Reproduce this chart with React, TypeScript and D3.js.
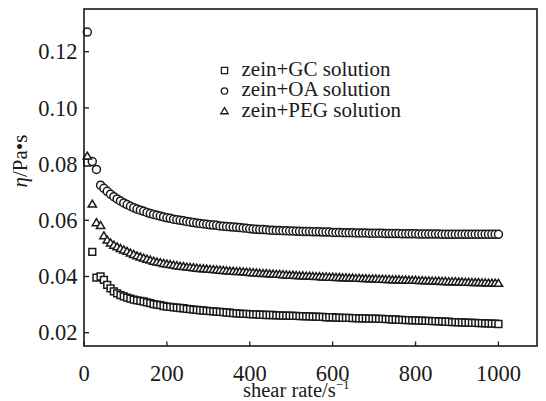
import React from "react";
import * as d3 from "d3";

const shearRate = [
  8, 20, 30, 40, 48, 56, 64, 72, 80, 88,
  96, 104, 112, 120, 128, 136, 144, 152, 160, 168,
  176, 184, 192, 200, 208, 216, 224, 232, 240, 248,
  256, 264, 272, 280, 288, 296, 304, 312, 320, 328,
  336, 344, 352, 360, 368, 376, 384, 392, 400, 408,
  416, 424, 432, 440, 448, 456, 464, 472, 480, 488,
  496, 504, 512, 520, 528, 536, 544, 552, 560, 568,
  576, 584, 592, 600, 608, 616, 624, 632, 640, 648,
  656, 664, 672, 680, 688, 696, 704, 712, 720, 728,
  736, 744, 752, 760, 768, 776, 784, 792, 800, 808,
  816, 824, 832, 840, 848, 856, 864, 872, 880, 888,
  896, 904, 912, 920, 928, 936, 944, 952, 960, 968,
  976, 984, 992, 1000,
];

const gcViscosity = [
  0.0805, 0.0488, 0.0396, 0.0400, 0.0388, 0.0370, 0.0358, 0.0347, 0.0340, 0.0334,
  0.0329, 0.0325, 0.0321, 0.0318, 0.0315, 0.0313, 0.0311, 0.0308, 0.0305, 0.0302,
  0.0300, 0.0298, 0.0295, 0.0293, 0.0292, 0.0290, 0.0289, 0.0288, 0.0287, 0.0285,
  0.0284, 0.0282, 0.0281, 0.0280, 0.0279, 0.0278, 0.0277, 0.0276, 0.0275, 0.0274,
  0.0273, 0.0272, 0.0271, 0.0270, 0.0269, 0.0268, 0.0267, 0.0267, 0.0266, 0.0265,
  0.0265, 0.0264, 0.0264, 0.0263, 0.0263, 0.0263, 0.0262, 0.0262, 0.0261, 0.0261,
  0.0261, 0.0260, 0.0260, 0.0259, 0.0259, 0.0258, 0.0258, 0.0257, 0.0257, 0.0256,
  0.0256, 0.0255, 0.0255, 0.0255, 0.0254, 0.0254, 0.0253, 0.0253, 0.0253, 0.0252,
  0.0252, 0.0251, 0.0251, 0.0251, 0.0250, 0.0250, 0.0250, 0.0249, 0.0249, 0.0248,
  0.0248, 0.0247, 0.0247, 0.0246, 0.0246, 0.0245, 0.0245, 0.0244, 0.0244, 0.0243,
  0.0243, 0.0242, 0.0242, 0.0241, 0.0241, 0.0240, 0.0240, 0.0239, 0.0239, 0.0238,
  0.0238, 0.0237, 0.0237, 0.0236, 0.0236, 0.0235, 0.0235, 0.0234, 0.0234, 0.0233,
  0.0233, 0.0232, 0.0232, 0.0231,
];

const oaViscosity = [
  0.1270, 0.0809, 0.0781, 0.0725, 0.0714, 0.0703, 0.0693, 0.0684, 0.0676, 0.0669,
  0.0662, 0.0656, 0.0650, 0.0645, 0.0640, 0.0636, 0.0632, 0.0628, 0.0624, 0.0621,
  0.0618, 0.0615, 0.0612, 0.0609, 0.0607, 0.0604, 0.0602, 0.0600, 0.0598, 0.0596,
  0.0594, 0.0592, 0.0590, 0.0589, 0.0587, 0.0586, 0.0584, 0.0583, 0.0582, 0.0580,
  0.0579, 0.0578, 0.0577, 0.0576, 0.0575, 0.0574, 0.0573, 0.0572, 0.0570, 0.0569,
  0.0568, 0.0567, 0.0567, 0.0566, 0.0565, 0.0565, 0.0564, 0.0564, 0.0563, 0.0563,
  0.0562, 0.0562, 0.0561, 0.0561, 0.0560, 0.0560, 0.0560, 0.0559, 0.0559, 0.0559,
  0.0558, 0.0558, 0.0558, 0.0557, 0.0557, 0.0557, 0.0556, 0.0556, 0.0556, 0.0556,
  0.0555, 0.0555, 0.0555, 0.0555, 0.0554, 0.0554, 0.0554, 0.0554, 0.0554, 0.0553,
  0.0553, 0.0553, 0.0553, 0.0553, 0.0552, 0.0552, 0.0552, 0.0552, 0.0552, 0.0551,
  0.0551, 0.0551, 0.0551, 0.0551, 0.0551, 0.0551, 0.0550, 0.0550, 0.0550, 0.0550,
  0.0550, 0.0550, 0.0550, 0.0550, 0.0550, 0.0550, 0.0550, 0.0550, 0.0550, 0.0550,
  0.0550, 0.0550, 0.0550, 0.0550,
];

const pegViscosity = [
  0.0829, 0.0658, 0.0592, 0.0582, 0.0545, 0.0530, 0.0520, 0.0512, 0.0506, 0.0500,
  0.0495, 0.0490, 0.0484, 0.0479, 0.0474, 0.0470, 0.0466, 0.0462, 0.0459, 0.0455,
  0.0452, 0.0450, 0.0447, 0.0445, 0.0443, 0.0441, 0.0439, 0.0437, 0.0436, 0.0434,
  0.0433, 0.0432, 0.0430, 0.0429, 0.0428, 0.0427, 0.0426, 0.0425, 0.0424, 0.0423,
  0.0422, 0.0421, 0.0420, 0.0419, 0.0418, 0.0418, 0.0417, 0.0416, 0.0415, 0.0414,
  0.0413, 0.0412, 0.0411, 0.0411, 0.0410, 0.0409, 0.0408, 0.0408, 0.0407, 0.0406,
  0.0405, 0.0405, 0.0404, 0.0403, 0.0403, 0.0402, 0.0402, 0.0401, 0.0400, 0.0400,
  0.0399, 0.0399, 0.0398, 0.0398, 0.0397, 0.0397, 0.0396, 0.0396, 0.0395, 0.0395,
  0.0394, 0.0394, 0.0393, 0.0393, 0.0392, 0.0392, 0.0392, 0.0391, 0.0391, 0.0390,
  0.0390, 0.0389, 0.0389, 0.0389, 0.0388, 0.0388, 0.0387, 0.0387, 0.0387, 0.0386,
  0.0386, 0.0385, 0.0385, 0.0384, 0.0384, 0.0384, 0.0383, 0.0383, 0.0382, 0.0382,
  0.0382, 0.0381, 0.0381, 0.0380, 0.0380, 0.0379, 0.0379, 0.0379, 0.0378, 0.0378,
  0.0377, 0.0377, 0.0377, 0.0376,
];

const xTicks = [0, 200, 400, 600, 800, 1000];
const yTicks = [0.02, 0.04, 0.06, 0.08, 0.1, 0.12];
const yTickLabels = ["0.02", "0.04", "0.06", "0.08", "0.10", "0.12"];
const seriesNames = ["zein+GC solution", "zein+OA solution", "zein+PEG solution"];
const seriesShapes = ["square", "circle", "triangle"];

const W = 546;
const H = 401;
const left = 84;
const right = 537;
const top = 9;
const bottom = 346;
const FONT = "'Liberation Serif', 'Times New Roman', serif";
const INK = "#1a1a1a";

function markerPath(shape: string, s: number): string {
  if (shape === "square") {
    const h = s / 2;
    return `M${-h},${-h}H${h}V${h}H${-h}Z`;
  }
  if (shape === "circle") {
    const r = s / 2;
    return `M${r},0A${r},${r} 0 1,1 ${-r},0A${r},${r} 0 1,1 ${r},0Z`;
  }
  const hw = s * 0.56;
  const ht = s * 0.52;
  const hb = s * 0.42;
  return `M0,${-ht}L${hw},${hb}L${-hw},${hb}Z`;
}

export default function App() {
  const x = d3.scaleLinear().domain([0, 1093]).range([left, right]);
  const y = d3.scaleLinear().domain([0.01527, 0.1352]).range([bottom, top]);

  const series = [gcViscosity, oaViscosity, pegViscosity];
  const dataSizes = [6.8, 8, 7.4];
  const legendSizes = [6.2, 6.4, 6.6];
  const legendRowsY = [70.5, 91, 111];
  const legendTextY = [75.5, 96, 116.5];

  return (
    <svg
      width={W}
      height={H}
      style={{ position: "absolute", left: 0, top: 0, background: "#fff" }}
      fontFamily={FONT}
    >
      <rect x={0} y={0} width={W} height={H} fill="#fff" />
      {xTicks.map((t) => (
        <line key={"xt" + t} x1={x(t)} x2={x(t)} y1={bottom} y2={bottom - 4.5} stroke={INK} strokeWidth={1.3} />
      ))}
      {yTicks.map((t) => (
        <line key={"yt" + t} x1={left} x2={left + 5} y1={y(t)} y2={y(t)} stroke={INK} strokeWidth={1.3} />
      ))}
      {series.map((vals, si) => (
        <g key={"s" + si} fill="#fff" stroke={INK} strokeWidth={1.5}>
          {vals.map((v, i) => (
            <path
              key={i}
              d={markerPath(seriesShapes[si], dataSizes[si])}
              transform={`translate(${x(shearRate[i])},${y(v)})`}
            />
          ))}
        </g>
      ))}
      <rect x={left} y={top} width={right - left} height={bottom - top} fill="none" stroke={INK} strokeWidth={1.6} />
      {xTicks.map((t) => (
        <text key={"xl" + t} x={x(t)} y={380.5} textAnchor="middle" fontSize={22.5} fill={INK}>
          {t}
        </text>
      ))}
      {yTicks.map((t, i) => (
        <text key={"yl" + t} x={77.5} y={y(t)} dy="0.34em" textAnchor="end" fontSize={22.5} fill={INK}>
          {yTickLabels[i]}
        </text>
      ))}
      <text x={243} y={396.5} fontSize={20.5} fill={INK}>
        shear rate/s
        <tspan dy={-8} fontSize={13}>−1</tspan>
      </text>
      <text transform="translate(27,161) rotate(-90)" textAnchor="middle" fontSize={21} fill={INK}>
        <tspan fontStyle="italic">η</tspan>/Pa•s
      </text>
      {seriesNames.map((name, i) => (
        <g key={"lg" + i}>
          <path
            d={markerPath(seriesShapes[i], legendSizes[i])}
            transform={`translate(224.5,${legendRowsY[i]})`}
            fill="#fff"
            stroke={INK}
            strokeWidth={1.3}
          />
          <text x={241.5} y={legendTextY[i]} fontSize={21} fill={INK}>
            {name}
          </text>
        </g>
      ))}
    </svg>
  );
}
